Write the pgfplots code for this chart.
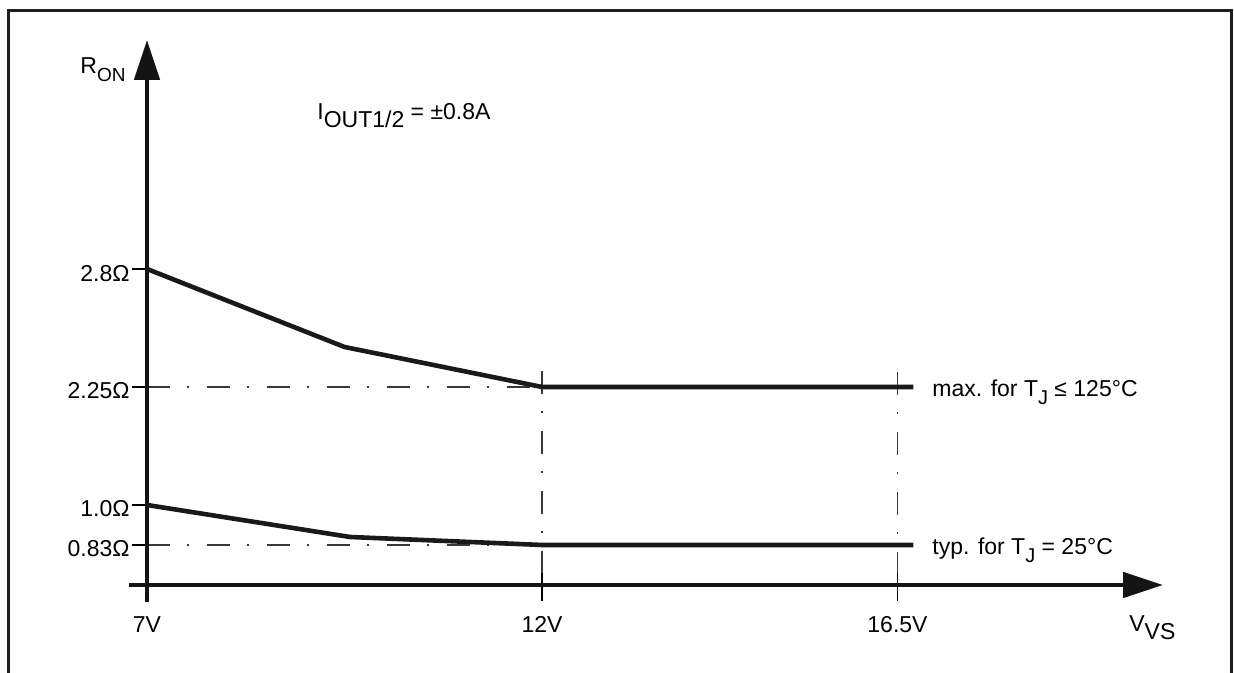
\documentclass[border=0pt]{standalone}
\usepackage{fontspec}
\setmainfont{Liberation Sans}
\usepackage{pgfplots}
\pgfplotsset{compat=1.18}
\usetikzlibrary{arrows.meta}

% lowered subscript, in the style of the datasheet
\newcommand{\sub}[2][11.5]{\raisebox{-4pt}{\fontsize{#1}{#1}\selectfont #2}}

\tikzset{
  dd/.style={line width=0.55pt, black!78, dash pattern=on 11.5pt off 8.5pt on 1pt off 9pt},
  lbl/.style={inner sep=0pt},
}

\begin{document}
\begin{tikzpicture}[font=\fontsize{11.5}{13}\selectfont]
\begin{axis}[
  scale only axis,
  width=617pt, height=336.5pt,
  xmin=5.1392, xmax=20.7595,
  ymin=-88, ymax=585,
  hide axis, clip=false,
]
% frame
\draw[line width=1.5pt, black!88] (5.253,-88) -- (5.253,574) -- (20.734,574) -- (20.734,-88);

% guide lines
\draw[dd] (7,198) -- (12,198);
\draw[dd] (7,40) -- (12,40);
\draw[dd] (12,214) -- (12,0);
\draw[dd] (16.5,213) -- (16.5,0);

% ticks
\draw[line width=0.9pt] (12,12) -- (12,-16);
\draw[line width=0.9pt] (16.5,12) -- (16.5,-16);
\draw[line width=0.8pt] (6.81,316) -- (7,316);
\draw[line width=0.8pt] (6.81,198) -- (7,198);
\draw[line width=0.8pt] (6.81,80) -- (7,80);
\draw[line width=0.8pt] (6.81,40) -- (7,40);

% axes
\draw[line width=2.3pt, black!92, -{Triangle[length=20pt,width=12.5pt]}] (6.772,0) -- (19.861,0);
\draw[line width=2.3pt, black!92, -{Triangle[length=20pt,width=12.5pt]}] (7,-17) -- (7,545);

% curves (y in drawing units: schematic axis)
\addplot[line width=2.3pt, black!90, line join=round] coordinates {(7,316) (9.5,238) (12,198) (16.7,198)};
\addplot[line width=2.3pt, black!90, line join=round] coordinates {(7,80) (9.57,48) (12,40) (16.7,40)};

% y labels
\node[lbl, anchor=base east] at (6.785,303) {2.8Ω};
\node[lbl, anchor=base east] at (6.785,186) {2.25Ω};
\node[lbl, anchor=base east] at (6.785,68) {1.0Ω};
\node[lbl, anchor=base east] at (6.785,28) {0.83Ω};

% x labels
\node[lbl, anchor=base] at (7,-48) {7V};
\node[lbl, anchor=base] at (12,-48) {12V};
\node[lbl, anchor=base] at (16.5,-48) {16.5V};

\node[lbl, anchor=base west] at (19.43,-47) {V\sub{VS}};
\node[lbl, anchor=base west] at (6.152,511) {R\sub[9.5]{ON}};
\node[lbl, anchor=base west] at (9.152,465) {I\sub{OUT1/2} = ±0.8A};
\node[lbl, anchor=base west] at (16.937,188) {max. for T\sub[10]{J} ≤ 125°C};
\node[lbl, anchor=base west] at (16.937,30) {typ. for T\sub[10]{J} = 25°C};
\end{axis}
\pgfresetboundingbox
\path[use as bounding box] (current axis.south west) rectangle (current axis.north east);
\end{tikzpicture}
\end{document}
